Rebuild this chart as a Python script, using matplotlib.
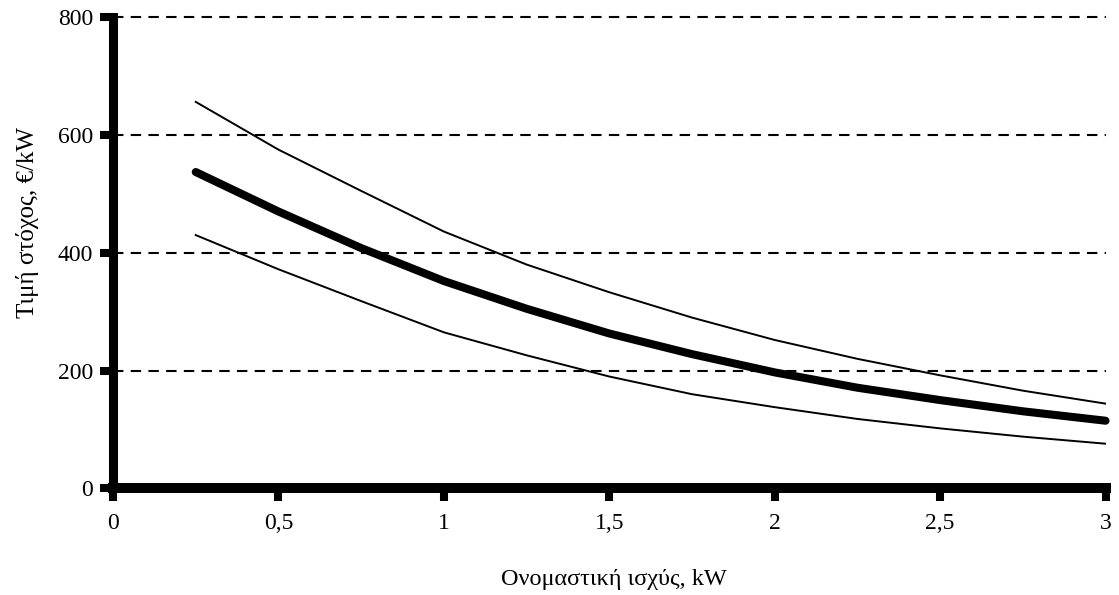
import numpy as np
import matplotlib
matplotlib.use('Agg')
import matplotlib.pyplot as plt

# power (kW) and target price (EUR/kW)
power = [0.25, 0.5, 0.75, 1.0, 1.25, 1.5, 1.75, 2.0, 2.25, 2.5, 2.75, 3.0]
price_upper = [656, 575, 505, 436, 380, 333, 290, 252, 220, 192, 166, 144]
price_mid = [537, 470, 408, 352, 305, 263, 228, 197, 171, 150, 131, 115]
price_lower = [430, 372, 318, 265, 226, 190, 160, 138, 118, 102, 88, 76]

x_ticks = [0, 0.5, 1, 1.5, 2, 2.5, 3]
x_ticklabels = ['0', '0,5', '1', '1,5', '2', '2,5', '3']
y_ticks = [0, 200, 400, 600, 800]

plt.rcParams['font.family'] = ['Liberation Serif', 'DejaVu Serif']

fig = plt.figure(figsize=(11.19, 5.95), dpi=100)
ax = fig.add_axes([0.101, 0.179, 0.887, 0.7924])

# dashed horizontal gridlines
for yv in y_ticks[1:]:
    ax.axhline(yv, color='black', lw=1.5, ls=(0, (5, 3.5)), zorder=1, clip_on=False)

ax.plot(power, price_upper, color='black', lw=1.4, zorder=3)
ax.plot(power, price_lower, color='black', lw=1.4, zorder=3)
ax.plot(power, price_mid, color='black', lw=5.8, solid_capstyle='round', zorder=3, clip_on=False)

ax.set_xlim(0, 3)
ax.set_ylim(0, 800)
ax.set_xticks(x_ticks)
ax.set_xticklabels(x_ticklabels)
ax.set_yticks(y_ticks)

for side in ['top', 'right']:
    ax.spines[side].set_visible(False)
ax.spines['left'].set_linewidth(6.5)
ax.spines['bottom'].set_linewidth(7.2)
for side in ['left', 'bottom']:
    ax.spines[side].set_capstyle('projecting')

ax.tick_params(axis='both', direction='out', length=9.4, width=5.8, color='black', labelsize=17)
ax.tick_params(axis='x', pad=8)
ax.tick_params(axis='y', pad=5)

ax.set_xlabel('Ονομαστική ισχύς, kW', fontsize=17.5)
ax.set_ylabel('Τιμή στόχος, €/kW', fontsize=18)
ax.yaxis.set_label_coords(-0.075, 0.565)
ax.xaxis.set_label_coords(0.505, -0.17)

plt.savefig('out.png', dpi=100)
plt.close()
